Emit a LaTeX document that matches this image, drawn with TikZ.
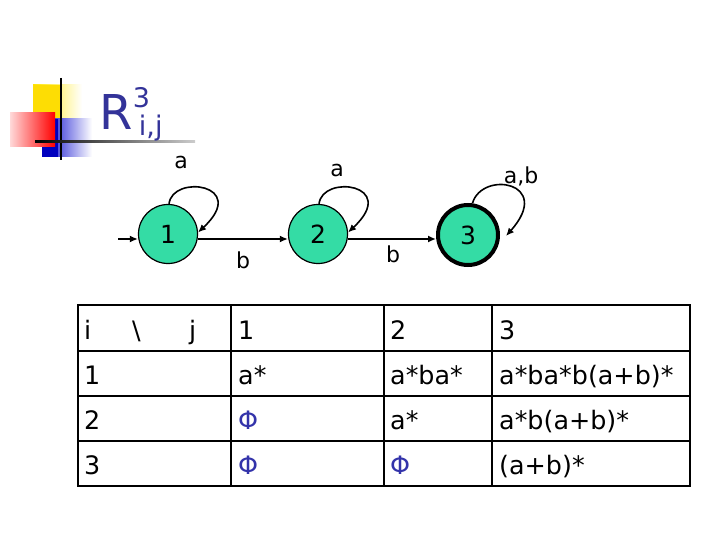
\documentclass[tikz,border=0pt]{standalone}
\usepackage{fontspec}
\setmainfont{DejaVu Sans}
\usetikzlibrary{arrows.meta,calc}
\definecolor{stategreen}{RGB}{52,220,165}
\definecolor{titleblue}{RGB}{51,51,153}
\definecolor{phiblue}{RGB}{51,51,170}
\begin{document}
\begin{tikzpicture}[x=1pt,y=-1pt,
  state/.style={circle,draw=black,line width=1.2pt,fill=stategreen,minimum size=59pt,inner sep=0pt,font=\fontsize{25}{25}\selectfont},
  accept/.style={state,line width=4pt,minimum size=60pt},
  edge/.style={-{Latex[length=8pt,width=7pt]},line width=1.6pt},
  elabel/.style={font=\fontsize{22}{22}\selectfont,inner sep=0pt},
  cell/.style={anchor=base west,inner sep=0pt,font=\fontsize{25.4}{25.4}\selectfont},
  phi/.style={cell,text=phiblue},
  grid/.style={line width=1.6pt}]
\useasboundingbox (0,0) rectangle (720,540);
% decoration
\shade[left color=yellow!80!orange,right color=white] (33,85) rectangle (82,121);
\fill[yellow!80!orange] (33,85) rectangle (60,121);
\shade[left color=blue!80!black,right color=white] (42,119) rectangle (92,157);
\fill[blue!75!black] (42,119) rectangle (58,157);
\shade[left color=red!15,right color=red] (10,113) rectangle (55,147);
\draw[line width=2.2pt] (61,78) -- (61,160);
\shade[left color=black,right color=gray!40] (35,140.5) rectangle (195,143);
% title
\node[anchor=base west,inner sep=0pt,text=titleblue,font=\fontsize{48}{48}\selectfont] (R) at (99,130) {R};
\node[anchor=base west,inner sep=0pt,text=titleblue,font=\fontsize{27}{27}\selectfont,yshift=22pt] (sup) at (R.base east) {3};
\node[anchor=base west,inner sep=0pt,text=titleblue,font=\fontsize{27}{27}\selectfont,xshift=6pt,yshift=-6pt] (sub) at (R.base east) {i,j};
% states
\node[state] (s1) at (168,234) {1};
\node[state] (s2) at (318,234) {2};
\node[accept] (s3) at (468,235) {3};
\coordinate (start) at (118,239);
\draw[edge] (start) -- (s1.west |- start);
\draw[edge] (s1.east |- start) -- node[elabel,below,yshift=-12pt,xshift=0pt] (lb1) {b} (s2.west |- start);
\draw[edge] (s2.east |- start) -- node[elabel,below,yshift=-6pt,xshift=1pt] (lb2) {b} ($(s3.west)+(0,4)$);
\draw[edge] (s1.88) .. controls (172,174) and (250,184) .. (s1.3);
\draw[edge] (s2.88) .. controls (322,174) and (400,184) .. (s2.3);
\draw[edge] (s3.82) .. controls (482,170) and (554,182) .. ($(s3.east)+(6,1)$);
\node[elabel] (la1) at (181,162) {a};
\node[elabel] (la2) at (337,170) {a};
\node[elabel] (la3) at (521,176) {a,b};
% table
\draw[grid] (78,305) rectangle (690,486);
\foreach \y in {351,396,441} \draw[grid] (78,\y) -- (690,\y);
\foreach \x in {231,384,492} \draw[grid] (\x,305) -- (\x,486);
\node[cell] (h0) at (84,339) {i};
\node[cell] (hs) at (132,339) {\textbackslash};
\node[cell] (hj) at (189,339) {j};
\node[cell] (h1) at (238,339) {1};
\node[cell] (h2) at (390,339) {2};
\node[cell] (h3) at (499,339) {3};
\node[cell] (r1) at (84,384) {1};
\node[cell] (c11) at (238,384) {a*};
\node[cell] (c12) at (390,384) {a*ba*};
\node[cell] (c13) at (499,384) {a*ba*b(a+b)*};
\node[cell] (r2) at (84,429) {2};
\node[phi] (c21) at (238,429) {Φ};
\node[cell] (c22) at (390,429) {a*};
\node[cell] (c23) at (499,429) {a*b(a+b)*};
\node[cell] (r3) at (84,474) {3};
\node[phi] (c31) at (238,474) {Φ};
\node[phi] (c32) at (390,474) {Φ};
\node[cell] (c33) at (499,474) {(a+b)*};
\end{tikzpicture}
\end{document}
